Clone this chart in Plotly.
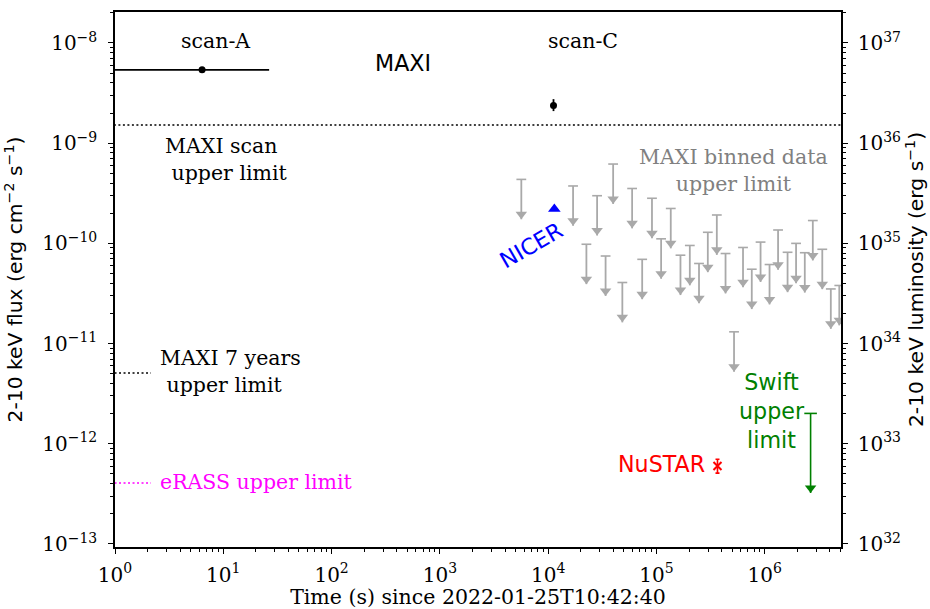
import plotly.graph_objects as go

# ---------------- data ----------------
# MAXI binned-data upper limits (grey arrows): time (s) and flux upper limit
binned_t = [5650, 16980, 22540, 28300, 33900, 39800, 48400, 59600, 73800, 90900,
            110400, 135500, 166600, 203200, 247100, 297900, 360800, 434300, 520400, 629900,
            758600, 914600, 1107000, 1327000, 1624000, 1946000, 2342000, 2778000, 3398000, 4074000, 4878000]
binned_ul = [4.35e-10, 3.74e-10, 9.8e-11, 2.99e-10, 7.48e-11, 6.19e-10, 4.07e-11, 3.53e-10, 6.93e-11, 2.82e-10,
             1.11e-10, 2.23e-10, 7.62e-11, 9.53e-11, 6.30e-11, 1.29e-10, 1.92e-10, 7.92e-11, 1.31e-11, 9.10e-11,
             5.52e-11, 1.03e-10, 6.15e-11, 1.36e-10, 8.15e-11, 1.00e-10, 8.07e-11, 1.69e-10, 8.73e-11, 3.51e-11, 3.80e-11]
ul_arrow_frac = 0.4          # arrow goes down to 40 % of the limit

scan_a_t, scan_a_tlo, scan_a_thi, scan_a_flux = 6.37, 0.9, 26.5, 5.4e-9
scan_c_t, scan_c_flux, scan_c_lo, scan_c_hi = 1.12e4, 2.37e-9, 2.09e-9, 2.75e-9
nicer_t, nicer_flux = 1.14e4, 2.2e-10
nustar_t, nustar_flux, nustar_lo, nustar_hi = 3.66e5, 6.0e-13, 5.1e-13, 7.0e-13
swift_t, swift_ul, swift_tip = 2.65e6, 2.01e-12, 3.23e-13
maxi_scan_ul = 1.52e-9
maxi_scan_t = [0.5, 1e7]
maxi7_ul = 5.1e-12
erass_ul = 4.06e-13
short_ul_t = [0.9, 2.15]
lum_factor = 1e45            # L = F * lum_factor

x_major = [1, 10, 100, 1e3, 1e4, 1e5, 1e6]
x_major_text = ["10<sup>0</sup>", "10<sup>1</sup>", "10<sup>2</sup>", "10<sup>3</sup>",
                "10<sup>4</sup>", "10<sup>5</sup>", "10<sup>6</sup>"]
y_major = [1e-13, 1e-12, 1e-11, 1e-10, 1e-9, 1e-8]
y_major_text = ["10<sup>−13</sup>", "10<sup>−12</sup>", "10<sup>−11</sup>",
                "10<sup>−10</sup>", "10<sup>−9</sup>", "10<sup>−8</sup>"]
y2_major = [1e32, 1e33, 1e34, 1e35, 1e36, 1e37]
y2_major_text = ["10<sup>32</sup>", "10<sup>33</sup>", "10<sup>34</sup>",
                 "10<sup>35</sup>", "10<sup>36</sup>", "10<sup>37</sup>"]

# ---------------- layout constants ----------------
W, H = 930, 609
ML, MR, MT, MB = 115, 89, 12, 62
XR = [0, 6.704]
YR = [-13.03, -7.691]
px_per_dec = (H - MT - MB) / (YR[1] - YR[0])

SERIF = "DejaVu Serif"
SANS = "DejaVu Sans"
GREY = "#a9a9a9"
SERIF_SIZE = 20.5
SANS_SIZE = 22.2
head_size = 10
head_shift = 10 ** ((head_size / 2) / px_per_dec)

fig = go.Figure()

# dotted horizontal limits
fig.add_trace(go.Scatter(x=maxi_scan_t, y=[maxi_scan_ul] * 2, mode="lines",
                         line=dict(color="black", width=1.5, dash="2px,2.5px"), hoverinfo="skip"))
fig.add_trace(go.Scatter(x=short_ul_t, y=[maxi7_ul] * 2, mode="lines",
                         line=dict(color="black", width=1.5, dash="2px,2.5px"), hoverinfo="skip"))
fig.add_trace(go.Scatter(x=short_ul_t, y=[erass_ul] * 2, mode="lines",
                         line=dict(color="magenta", width=1.5, dash="2px,2.5px"), hoverinfo="skip"))

# grey binned upper limits
stem_x, stem_y = [], []
for t, v in zip(binned_t, binned_ul):
    stem_x += [t, t, None]
    stem_y += [v, v * ul_arrow_frac, None]
fig.add_trace(go.Scatter(x=stem_x, y=stem_y, mode="lines",
                         line=dict(color=GREY, width=1.8), hoverinfo="skip"))
fig.add_trace(go.Scatter(x=binned_t, y=binned_ul, mode="markers",
                         marker=dict(symbol="line-ew-open", size=7, color=GREY,
                                     line=dict(color=GREY, width=1.6)),
                         hoverinfo="skip"))
fig.add_trace(go.Scatter(x=binned_t, y=[v * ul_arrow_frac * head_shift for v in binned_ul], mode="markers",
                         marker=dict(symbol="triangle-down", size=head_size, color=GREY, line=dict(width=0)),
                         hoverinfo="skip"))

# Swift upper limit
fig.add_trace(go.Scatter(x=[swift_t, swift_t], y=[swift_ul, swift_tip], mode="lines",
                         line=dict(color="green", width=1.6), hoverinfo="skip"))
fig.add_trace(go.Scatter(x=[swift_t], y=[swift_ul], mode="markers",
                         marker=dict(symbol="line-ew-open", size=9, color="green",
                                     line=dict(color="green", width=1.6)),
                         hoverinfo="skip"))
fig.add_trace(go.Scatter(x=[swift_t], y=[swift_tip * head_shift], mode="markers",
                         marker=dict(symbol="triangle-down", size=head_size, color="green", line=dict(width=0)),
                         hoverinfo="skip"))

# scan-A
fig.add_trace(go.Scatter(x=[scan_a_t], y=[scan_a_flux], mode="markers",
                         marker=dict(color="black", size=7),
                         error_x=dict(type="data", symmetric=False,
                                      array=[scan_a_thi - scan_a_t], arrayminus=[scan_a_t - scan_a_tlo],
                                      color="black", thickness=1.8, width=0),
                         hoverinfo="skip"))
# scan-C
fig.add_trace(go.Scatter(x=[scan_c_t], y=[scan_c_flux], mode="markers",
                         marker=dict(color="black", size=7),
                         error_y=dict(type="data", symmetric=False,
                                      array=[scan_c_hi - scan_c_flux], arrayminus=[scan_c_flux - scan_c_lo],
                                      color="black", thickness=1.8, width=0),
                         hoverinfo="skip"))
# NICER
fig.add_trace(go.Scatter(x=[nicer_t], y=[nicer_flux], mode="markers",
                         marker=dict(symbol="triangle-up", size=11, color="blue", line=dict(width=0)),
                         hoverinfo="skip"))
# NuSTAR
fig.add_trace(go.Scatter(x=[nustar_t], y=[nustar_flux], mode="markers",
                         marker=dict(symbol="x-thin-open", size=8, color="red",
                                     line=dict(color="red", width=2)),
                         error_y=dict(type="data", symmetric=False,
                                      array=[nustar_hi - nustar_flux], arrayminus=[nustar_flux - nustar_lo],
                                      color="red", thickness=1.6, width=2),
                         hoverinfo="skip"))

# invisible trace to carry the luminosity axis
fig.add_trace(go.Scatter(x=[scan_c_t], y=[scan_c_flux * lum_factor], yaxis="y2", mode="markers",
                         marker=dict(opacity=0), hoverinfo="skip"))

def minor_ticks(lo, hi):
    return [float(k) * 10.0 ** n for n in range(lo, hi) for k in range(2, 10)]

tickfont = dict(family=SERIF, size=20, color="black")
axis_common = dict(type="log", showgrid=False, zeroline=False, showline=True, linecolor="black",
                   linewidth=1.5, ticks="outside", ticklen=5, tickwidth=1.2, tickcolor="black",
                   tickfont=tickfont, tickmode="array", automargin=False)
minor_common = dict(tickmode="array", ticks="outside", ticklen=3, tickwidth=1, tickcolor="black")

fig.update_layout(
    width=W, height=H, autosize=False,
    margin=dict(l=ML, r=MR, t=MT, b=MB, pad=0, autoexpand=False),
    paper_bgcolor="white", plot_bgcolor="white",
    showlegend=False,
    xaxis=dict(axis_common, range=XR, tickvals=x_major, ticktext=x_major_text, mirror=True,
               ticklabelstandoff=4,
               minor=dict(minor_common, tickvals=minor_ticks(0, 7)),
               title=dict(text="Time (s) since 2022-01-25T10:42:40",
                          font=dict(family=SERIF, size=SERIF_SIZE, color="black"), standoff=6)),
    yaxis=dict(axis_common, range=YR, tickvals=y_major, ticktext=y_major_text,
               ticklabelstandoff=7,
               minor=dict(minor_common, tickvals=minor_ticks(-14, -7)),
               title=dict(text="2-10 keV flux (erg cm<sup>−2</sup> s<sup>−1</sup>)",
                          font=dict(family=SANS, size=20.3, color="black"), standoff=14)),
    yaxis2=dict(axis_common, overlaying="y", side="right",
                range=[YR[0] + 45, YR[1] + 45], tickvals=y2_major, ticktext=y2_major_text,
                ticklabelstandoff=6,
                minor=dict(minor_common, tickvals=minor_ticks(31, 38)),
                title=dict(text="2-10 keV luminosity (erg s<sup>−1</sup>)",
                           font=dict(family=SANS, size=20.3, color="black"), standoff=9)),
)

def ann(text, xlog, ylog, family, size, color, xanchor="center", align="center", angle=0):
    fig.add_annotation(text=text, x=xlog, y=ylog, xref="x", yref="y", showarrow=False,
                       font=dict(family=family, size=size, color=color),
                       xanchor=xanchor, yanchor="middle", align=align, textangle=angle)

ann("scan-A", 0.924, -7.98, SERIF, SERIF_SIZE, "black")
ann("scan-C", 4.325, -7.98, SERIF, SERIF_SIZE, "black")
ann("MAXI", 2.662, -8.20, SANS, SANS_SIZE, "black")
ann("MAXI scan<br>\u00a0upper limit", 0.444, -9.163, SERIF, SERIF_SIZE, "black", xanchor="left", align="left")
ann("MAXI binned data<br>upper limit", 5.712, -9.277, SERIF, SERIF_SIZE, "grey")
ann("NICER", 3.845, -10.016, SANS, SANS_SIZE, "blue", angle=-30)
ann("MAXI 7 years<br>\u00a0upper limit", 0.397, -11.278, SERIF, SERIF_SIZE, "black", xanchor="left", align="left")
ann("eRASS upper limit", 0.397, -12.381, SERIF, SERIF_SIZE, "magenta", xanchor="left", align="left")
ann("NuSTAR", 5.471, -12.202, SANS, SANS_SIZE, "red", xanchor="right")
ann("Swift<br>upper<br>limit", 6.063, -11.673, SANS, SANS_SIZE, "green")

fig.write_html("out.html")
